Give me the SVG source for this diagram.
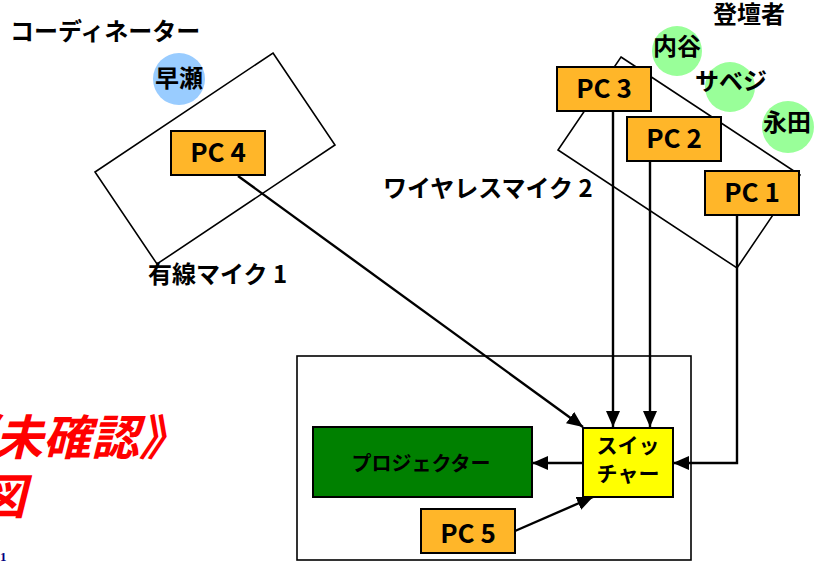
<svg xmlns="http://www.w3.org/2000/svg" width="814" height="562" viewBox="0 0 814 562">
<style>
text{font-family:"Noto Sans CJK JP","Noto Sans",sans-serif;font-weight:700;fill:#000}
.lbl{font-size:24px}
.pc rect{fill:#FFB629;stroke:#000;stroke-width:2}
.pc text{font-size:26px;text-anchor:middle}
.mic{fill:none;stroke:#000;stroke-width:1.6}
.nm{font-size:24px;text-anchor:middle}
.blue{fill:#99CCFF}
.grn{fill:#99FF99}
.con path{fill:none;stroke:#000;stroke-width:2.4;marker-end:url(#ah)}
.red{font-size:48px;fill:#FF0000;font-style:italic;text-anchor:end}
</style>
<defs>
<marker id="ah" markerUnits="userSpaceOnUse" markerWidth="16" markerHeight="14" refX="16" refY="7" orient="auto">
<path d="M0,0 L16,7 L0,14 z" fill="#000"/>
</marker>
</defs>
<rect width="814" height="562" fill="#fff"/>

<g id="title">
<text class="red" x="187" y="455">《未確認》</text>
<text class="red" x="26" y="514">図</text>
<text x="0" y="561" style="font-family:'Liberation Serif',serif;font-size:13px;fill:#000080">1</text>
</g>

<g id="room">
<rect x="297" y="356" width="394" height="204" fill="none" stroke="#000" stroke-width="1.6"/>
</g>

<g id="mic1">
<polygon class="mic" points="273,53 335,145 157,264 95,172"/>
<text class="lbl" x="148" y="283">有線マイク 1</text>
</g>
<g id="mic2">
<polygon class="mic" points="621,57 800,175 737,268 558,150"/>
<text class="lbl" x="383" y="197">ワイヤレスマイク 2</text>
</g>

<g id="coordinator">
<text class="lbl" x="10" y="40">コーディネーター</text>
<circle class="blue" cx="179" cy="79" r="26"/>
<text class="nm" x="179" y="87">早瀬</text>
</g>

<g id="speakers">
<text class="nm" x="749" y="23">登壇者</text>
<circle class="grn" cx="677" cy="51" r="25"/>
<text class="nm" x="677" y="55">内谷</text>
<circle class="grn" cx="730" cy="87" r="25"/>
<text class="nm" x="731" y="90">サベジ</text>
<circle class="grn" cx="788" cy="127" r="26"/>
<text class="nm" x="787" y="131">永田</text>
</g>

<g id="pc4" class="pc"><rect x="171" y="131" width="94" height="44"/><text x="218" y="162">PC 4</text></g>
<g id="pc3" class="pc"><rect x="557" y="67" width="94" height="44"/><text x="604" y="98">PC 3</text></g>
<g id="pc2" class="pc"><rect x="627" y="117" width="94" height="44"/><text x="674" y="148">PC 2</text></g>
<g id="pc1" class="pc"><rect x="705" y="171" width="94" height="44"/><text x="752" y="202">PC 1</text></g>
<g id="pc5" class="pc"><rect x="421" y="509" width="94" height="44"/><text x="468" y="543">PC 5</text></g>

<g id="projector">
<rect x="313" y="427" width="219" height="70" fill="#008000" stroke="#000" stroke-width="2"/>
<text x="421" y="471" style="font-size:20px;text-anchor:middle">プロジェクター</text>
</g>

<g id="switcher">
<rect x="583" y="428" width="90" height="69" fill="#FFFF00" stroke="#000" stroke-width="2"/>
<text x="628" y="453" style="font-size:21px;text-anchor:middle">スイッ</text>
<text x="628" y="481" style="font-size:21px;text-anchor:middle">チャー</text>
</g>

<g id="connectors" class="con">
<path d="M238,176 L583,427"/>
<path d="M613,111 L613,427"/>
<path d="M650,161 L650,427"/>
<path d="M737,215 L737,463 L673,463"/>
<path d="M583,463 L532,463"/>
<path d="M515,531 L593,497"/>
</g>
</svg>
